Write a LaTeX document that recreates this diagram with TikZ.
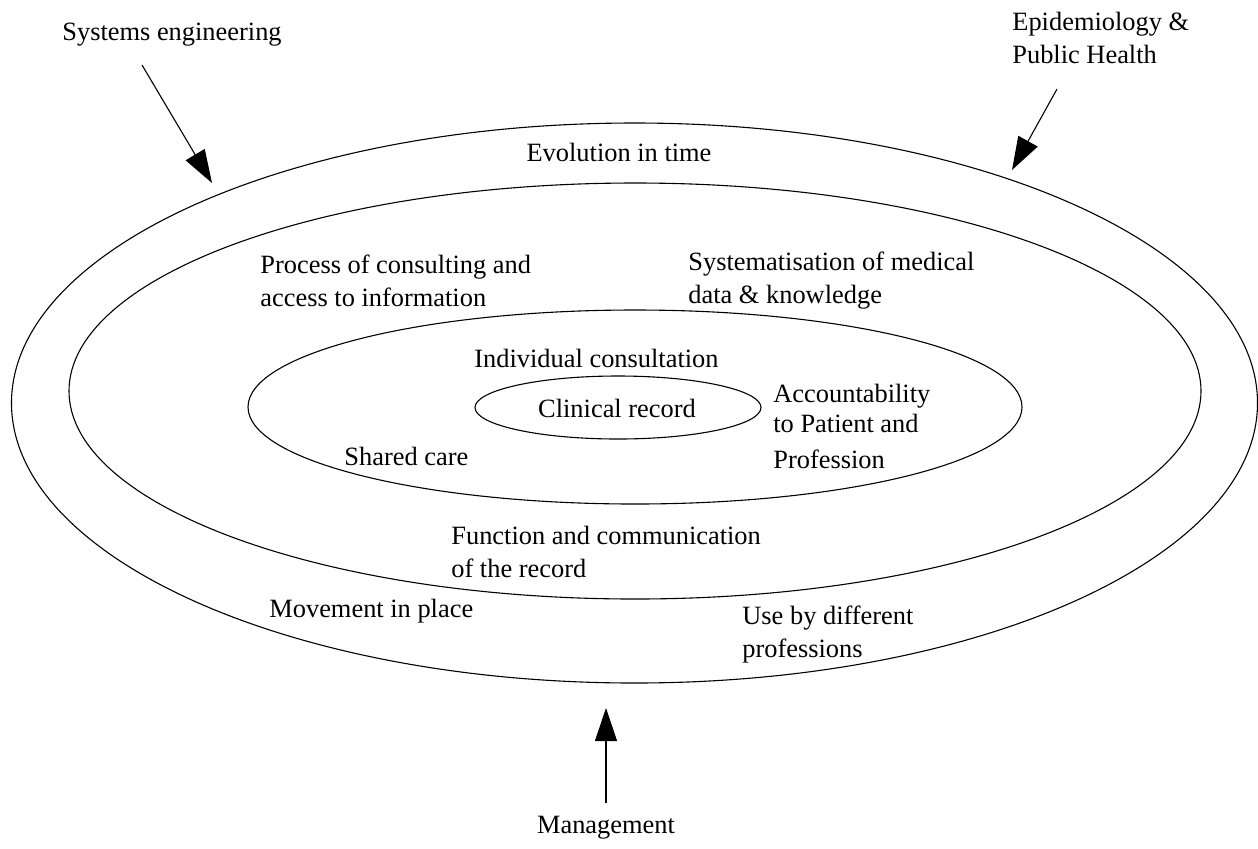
\documentclass[tikz,border=0pt]{standalone}
\usepackage{fontspec}
\setmainfont{Liberation Serif}
\usetikzlibrary{arrows.meta}
\begin{document}
\begin{tikzpicture}[x=0.5pt,y=-0.5pt,
  ring/.style={draw=black,line width=0.55pt},
  lbl/.style={inner sep=0pt,anchor=west,align=left,font=\fontsize{13.2}{16.5}\selectfont},
  clbl/.style={inner sep=0pt,anchor=center,align=center,font=\fontsize{13.2}{16.5}\selectfont},
  influence/.style={line width=0.55pt,-{Triangle[length=16.5pt,width=11pt]}}]
  \useasboundingbox (0,0) rectangle (1258,848);
  % nested rings
  \draw[ring] (634.5,403) ellipse [x radius=311.5pt,y radius=140pt];
  \draw[ring] (635,391) ellipse [x radius=283pt,y radius=104pt];
  \draw[ring] (635,407) ellipse [x radius=193.5pt,y radius=48.5pt];
  \draw[ring] (618,407.5) ellipse [x radius=71.5pt,y radius=15.75pt];
  % ring labels
  \node[clbl] (evol) at (619,152) {Evolution in time};
  \node[lbl] (proc) at (260,281) {Process of consulting and\\access to information};
  \node[lbl] (syst) at (688,281) {Systematisation of medical\\data \& knowledge};
  \node[lbl] (indiv) at (474,358) {Individual consultation};
  \node[clbl] (clin) at (617,408) {Clinical record};
  \node[lbl] (acc1) at (773,396) {Accountability};
  \node[lbl] (acc2) at (773,423) {to Patient and};
  \node[lbl] (acc3) at (773,459) {Profession};
  \node[lbl] (shared) at (344,456) {Shared care};
  \node[lbl] (func) at (451,552) {Function and communication\\of the record};
  \node[lbl] (move) at (269,611) {Movement in place};
  \node[lbl] (use) at (742,634) {Use by different\\professions};
  % outside influences
  \node[lbl] (syseng) at (62,35) {Systems engineering};
  \node[lbl] (epi) at (1012,38) {Epidemiology \&\\Public Health};
  \node[clbl] (mgmt) at (606,828) {Management};
  \coordinate (syseng-tail) at (142,65);
  \coordinate (syseng-tip) at (212,183);
  \coordinate (epi-tail) at (1057,89);
  \coordinate (epi-tip) at (1012,170);
  \coordinate (mgmt-tail) at (606,803);
  \coordinate (mgmt-tip) at (606,708);
  \draw[influence] (syseng-tail) -- (syseng-tip);
  \draw[influence] (epi-tail) -- (epi-tip);
  \draw[influence] (mgmt-tail) -- (mgmt-tip);
\end{tikzpicture}
\end{document}
